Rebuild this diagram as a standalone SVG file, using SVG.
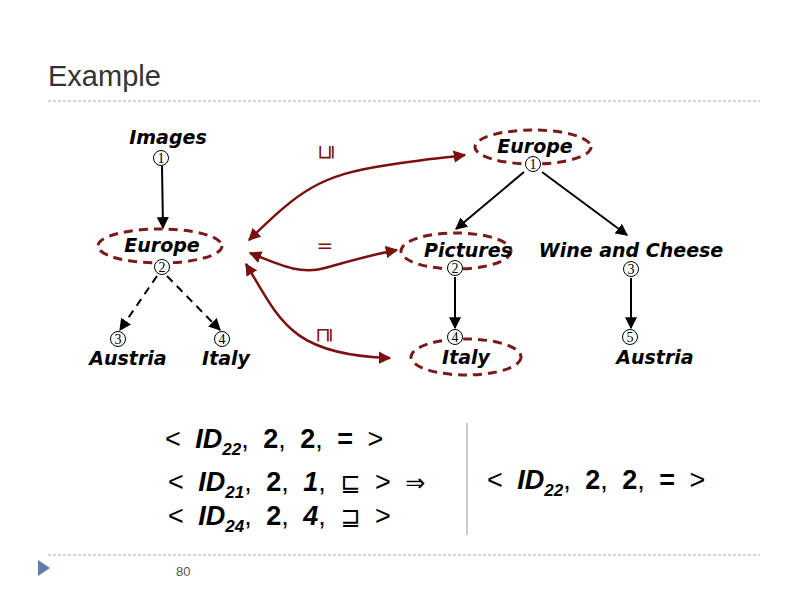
<svg xmlns="http://www.w3.org/2000/svg" width="800" height="600" viewBox="0 0 800 600">
<defs>
<marker id="ah" viewBox="0 0 10 10" refX="9" refY="5" markerWidth="6" markerHeight="6" orient="auto-start-reverse"><path d="M0,0L10,5L0,10z" fill="#000"/></marker>
<marker id="rh" viewBox="0 0 10 10" refX="9" refY="5" markerWidth="5" markerHeight="5" orient="auto-start-reverse"><path d="M0,0L10,5L0,10z" fill="#7a1010"/></marker>
<style>
.lbl{font-family:"DejaVu Sans",sans-serif;font-weight:bold;font-style:italic;font-size:19px;fill:#000;text-anchor:middle}
.num{font-family:"Liberation Serif",serif;font-size:14px;text-anchor:middle}
.c{fill:#fff;stroke:#000;stroke-width:1}
.ell{fill:none;stroke:#7a1a1a;stroke-width:3;stroke-dasharray:9,6}
.bl{stroke:#000;stroke-width:2;fill:none}
.rd{stroke:#7a1010;stroke-width:2.5;fill:none}
.sym{font-family:"DejaVu Sans",sans-serif;font-size:20px;fill:#7a1010;text-anchor:middle}
.f{font-family:"Liberation Sans",sans-serif;font-size:27px;fill:#000;word-spacing:7px}
.s{font-family:"DejaVu Sans",sans-serif;font-size:24px}
</style>
</defs>
<rect width="800" height="600" fill="#fff"/>
<text x="48" y="86" font-family="Liberation Sans, sans-serif" font-size="29" fill="#333">Example</text>
<line x1="48" y1="101" x2="760" y2="101" stroke="#aaa" stroke-dasharray="3,2"/>
<line x1="48" y1="555" x2="760" y2="555" stroke="#aaa" stroke-dasharray="3,2"/>
<path d="M38,560L50,568L38,576z" fill="#5d7fa8"/>
<text x="176" y="576" font-family="Liberation Sans, sans-serif" font-size="13" fill="#555">80</text>
<line x1="467" y1="423" x2="467" y2="535" stroke="#ccc" stroke-width="2"/>
<g id="connectors">
<line class="bl" x1="162" y1="166" x2="163" y2="228" marker-end="url(#ah)"/>
<line class="bl" x1="157" y1="276" x2="120" y2="330" stroke-dasharray="8,6" marker-end="url(#ah)"/>
<line class="bl" x1="167" y1="276" x2="220" y2="330" stroke-dasharray="8,6" marker-end="url(#ah)"/>
<line class="bl" x1="524" y1="172" x2="456" y2="229" marker-end="url(#ah)"/>
<line class="bl" x1="542" y1="172" x2="627" y2="235" marker-end="url(#ah)"/>
<line class="bl" x1="455" y1="277" x2="455" y2="328" marker-end="url(#ah)"/>
<line class="bl" x1="631" y1="278" x2="631" y2="328" marker-end="url(#ah)"/>
<path class="rd" d="M249,240 C300,190 320,175 388,165 S430,160 465,155" marker-start="url(#rh)" marker-end="url(#rh)"/>
<path class="rd" d="M250,253 C280,265 300,275 325,268 S370,255 397,250" marker-start="url(#rh)" marker-end="url(#rh)"/>
<path class="rd" d="M246,264 C280,320 290,355 390,358" marker-start="url(#rh)" marker-end="url(#rh)"/>
</g>
<g id="symbols">
<text class="sym" transform="translate(325,152) rotate(-90)" y="7">⊑</text>
<text class="sym" x="325" y="252">=</text>
<text class="sym" transform="translate(323,335) rotate(-90)" y="7">⊒</text>
</g>
<g id="images"><text class="lbl" x="168" y="144">Images</text><circle class="c" cx="161" cy="158" r="7.5"/><text class="num" x="161" y="163">1</text></g>
<g id="europe2"><ellipse class="ell" cx="160" cy="246" rx="62" ry="17"/><text class="lbl" x="162" y="252">Europe</text><circle class="c" cx="162" cy="267" r="7.5"/><text class="num" x="162" y="272">2</text></g>
<g id="austria3"><circle class="c" cx="118" cy="339" r="7.5"/><text class="num" x="118" y="344">3</text><text class="lbl" x="128" y="365">Austria</text></g>
<g id="italy4"><circle class="c" cx="222" cy="339" r="7.5"/><text class="num" x="222" y="344">4</text><text class="lbl" x="226" y="365">Italy</text></g>
<g id="europe1"><ellipse class="ell" cx="533" cy="147" rx="58" ry="17"/><text class="lbl" x="535" y="153">Europe</text><circle class="c" cx="533" cy="164" r="7.5"/><text class="num" x="533" y="169">1</text></g>
<g id="pictures2"><ellipse class="ell" cx="456" cy="251" rx="55" ry="18"/><text class="lbl" x="468" y="257">Pictures</text><circle class="c" cx="455" cy="268" r="7.5"/><text class="num" x="455" y="273">2</text></g>
<g id="wine3"><text class="lbl" x="631" y="257">Wine and Cheese</text><circle class="c" cx="631" cy="269" r="7.5"/><text class="num" x="631" y="274">3</text></g>
<g id="italy4b"><ellipse class="ell" cx="466" cy="357" rx="55" ry="18"/><circle class="c" cx="455" cy="337" r="7.5"/><text class="num" x="455" y="342">4</text><text class="lbl" x="466" y="364">Italy</text></g>
<g id="austria5"><circle class="c" cx="630" cy="337" r="7.5"/><text class="num" x="630" y="342">5</text><text class="lbl" x="655" y="364">Austria</text></g>
<g id="formulas" class="f">
<text x="165" y="448">&lt; <tspan font-weight="bold" font-style="italic">ID</tspan><tspan font-weight="bold" font-style="italic" font-size="17" dy="7">22</tspan><tspan dy="-7">, </tspan><tspan font-weight="bold">2</tspan>, <tspan font-weight="bold">2</tspan>, <tspan font-weight="bold">=</tspan>  &gt;</text>
<text x="168" y="491">&lt; <tspan font-weight="bold" font-style="italic">ID</tspan><tspan font-weight="bold" font-style="italic" font-size="17" dy="7">21</tspan><tspan dy="-7">, </tspan><tspan font-weight="bold">2</tspan>, <tspan font-weight="bold" font-style="italic">1</tspan>, <tspan class="s">⊑</tspan> &gt; <tspan class="s">⇒</tspan></text>
<text x="168" y="525">&lt; <tspan font-weight="bold" font-style="italic">ID</tspan><tspan font-weight="bold" font-style="italic" font-size="17" dy="7">24</tspan><tspan dy="-7">, </tspan><tspan font-weight="bold">2</tspan>, <tspan font-weight="bold" font-style="italic">4</tspan>, <tspan class="s">⊒</tspan> &gt;</text>
<text x="487" y="489">&lt; <tspan font-weight="bold" font-style="italic">ID</tspan><tspan font-weight="bold" font-style="italic" font-size="17" dy="7">22</tspan><tspan dy="-7">, </tspan><tspan font-weight="bold">2</tspan>, <tspan font-weight="bold">2</tspan>, <tspan font-weight="bold">=</tspan> &gt;</text>
</g>
</svg>
